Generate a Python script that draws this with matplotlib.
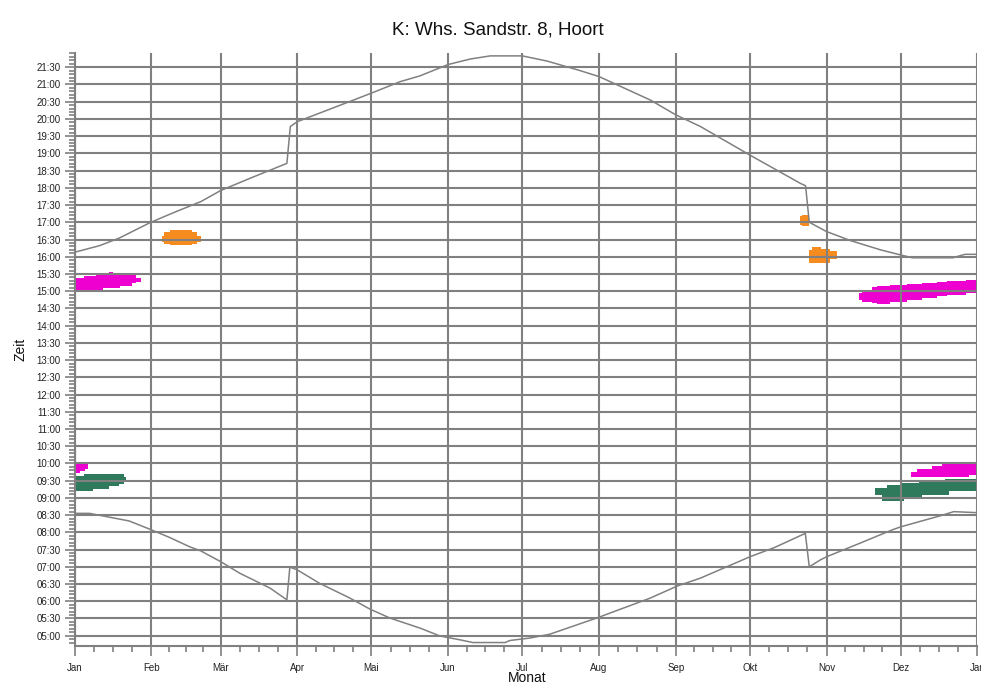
import matplotlib
matplotlib.use("Agg")
import matplotlib.pyplot as plt
import numpy as np
from matplotlib.ticker import FixedLocator, FuncFormatter

plt.rcParams['font.family'] = ['Liberation Sans', 'DejaVu Sans']

# ---- data ----
month_labels = ["Jan", "Feb", "Mär", "Apr", "Mai", "Jun", "Jul", "Aug", "Sep", "Okt", "Nov", "Dez", "Jan"]
month_starts = [0, 31, 59, 90, 120, 151, 181, 212, 243, 273, 304, 334, 365]

sunset_day = [0, 10, 18, 30.5, 40, 51, 59, 71, 85.8, 87.2, 90, 111, 120, 131.5, 139.6, 151, 160, 168, 181,
              191, 204, 212, 232.7, 243, 253, 273, 293.4, 295.5, 297, 304, 313.6, 325.8, 334, 338.7, 355, 360, 365]
sunset_hour = [16.13, 16.32, 16.54, 16.99, 17.28, 17.60, 17.92, 18.28, 18.71, 19.78, 19.92, 20.5, 20.75, 21.08, 21.25,
               21.58, 21.74, 21.83, 21.83, 21.68, 21.41, 21.23, 20.55, 20.12, 19.78, 18.95, 18.13, 18.06, 17.0, 16.73,
               16.47, 16.2, 16.05, 15.97, 15.97, 16.07, 16.07]

sunrise_day = [0, 6, 14, 22, 30.4, 38.4, 46.5, 51, 59, 66.8, 79, 85.8, 87, 90, 99, 111.3, 119.4, 127.5, 139.6,
               147.7, 155.7, 161, 174, 176, 184, 192, 211, 232.7, 243.6, 253, 273, 283, 295.4, 297, 301.5, 304,
               317.7, 330.5, 334, 350, 355.4, 365]
sunrise_hour = [8.55, 8.55, 8.44, 8.33, 8.09, 7.85, 7.58, 7.46, 7.15, 6.81, 6.38, 6.04, 6.99, 6.91, 6.52, 6.09,
                5.77, 5.51, 5.22, 4.99, 4.88, 4.80, 4.80, 4.86, 4.93, 5.04, 5.51, 6.09, 6.44, 6.67, 7.29, 7.56,
                7.97, 7.0, 7.2, 7.29, 7.69, 8.07, 8.16, 8.48, 8.6, 8.57]

# shadow periods: (day edges, lower time, upper time) per segment
magenta = '#EE00D0'
green = '#2F7A5C'
orange = '#F68B1F'

a_day = [0, 3.8, 8.6, 11.4, 13.9, 15.5, 18.3, 23.2, 24.8, 26.8]
a_lo = [14.97, 14.97, 14.97, 15.09, 15.09, 15.09, 15.16, 15.25, 15.27]
a_hi = [15.39, 15.44, 15.49, 15.49, 15.56, 15.49, 15.49, 15.49, 15.39]

b_day = [0, 2, 4, 5.4]
b_lo = [9.72, 9.78, 9.84]
b_hi = [10.01, 10.01, 9.98]

c_day = [0, 3.8, 7.4, 13.9, 17.9, 19.9, 20.8]
c_lo = [9.21, 9.21, 9.27, 9.34, 9.40, 9.47]
c_hi = [9.64, 9.69, 9.69, 9.69, 9.69, 9.62]

d_day = [35.3, 36.1, 38.6, 47.3, 49.4, 51.1]
d_lo = [16.44, 16.36, 16.34, 16.36, 16.44]
d_hi = [16.61, 16.71, 16.78, 16.71, 16.61]

e_day = [293.4, 294.2, 296.8]
e_lo = [16.93, 16.90]
e_hi = [17.18, 17.21]

f_day = [296.8, 298.1, 301.8, 305.2, 308.3]
f_lo = [15.83, 15.83, 15.83, 15.94]
f_hi = [16.20, 16.28, 16.22, 16.18]

g_day = [317.3, 318.4, 322.4, 324.4, 329.8, 336.6, 342.6, 348.7, 352.8, 360.2, 365]
g_lo = [14.73, 14.70, 14.65, 14.62, 14.68, 14.73, 14.79, 14.86, 14.89, 14.94]
g_hi = [14.96, 15.04, 15.11, 15.15, 15.18, 15.21, 15.23, 15.26, 15.30, 15.33]

h_day = [338.3, 340.6, 346.7, 350.7, 356.8, 361.5, 364.9]
h_lo = [9.60, 9.60, 9.60, 9.60, 9.60, 9.65]
h_hi = [9.74, 9.83, 9.93, 9.98, 10.02, 10.02]

i_day = [323.7, 326.5, 328.5, 333.9, 335.2, 341.3, 342.6, 352, 353.4, 365]
i_lo = [9.08, 8.92, 8.92, 8.92, 8.99, 8.99, 9.08, 9.08, 9.21]
i_hi = [9.28, 9.28, 9.38, 9.44, 9.44, 9.49, 9.49, 9.54, 9.54]

blobs = [(a_day, a_lo, a_hi, magenta), (b_day, b_lo, b_hi, magenta), (c_day, c_lo, c_hi, green),
         (d_day, d_lo, d_hi, orange), (e_day, e_lo, e_hi, orange), (f_day, f_lo, f_hi, orange),
         (g_day, g_lo, g_hi, magenta), (h_day, h_lo, h_hi, magenta), (i_day, i_lo, i_hi, green)]

# ---- figure ----
fig = plt.figure(figsize=(9.81, 6.87), dpi=100)
ax = fig.add_axes([0.0761, 0.0597, 0.9203, 0.8632])
grid_c = '#808080'

for days, lo, hi, col in blobs:
    lo2 = list(lo) + [lo[-1]]
    hi2 = list(hi) + [hi[-1]]
    ax.fill_between(days, lo2, hi2, step='post', color=col, linewidth=0, zorder=1)

ax.plot(sunset_day, sunset_hour, color=grid_c, lw=1.1, zorder=3)
ax.plot(sunrise_day, sunrise_hour, color=grid_c, lw=1.1, zorder=3)

ax.set_xlim(0, 365)
ax.set_ylim(4.70, 21.915)

ax.set_axisbelow(False)
major_y = np.arange(5.0, 21.51, 0.5)
ax.yaxis.set_major_locator(FixedLocator(major_y))
ax.yaxis.set_minor_locator(FixedLocator(np.arange(4.8, 21.95, 0.1)))
ax.yaxis.set_major_formatter(FuncFormatter(lambda v, p: "%02d:%02d" % (int(v + 1e-6), int(round((v - int(v + 1e-6)) * 60)))))

ax.xaxis.set_major_locator(FixedLocator(month_starts))
ax.set_xticklabels(month_labels)
minor_x = []
for k in range(12):
    s, e = month_starts[k], month_starts[k + 1]
    for q in (1, 2, 3):
        minor_x.append(s + (e - s) * q / 4)
ax.xaxis.set_minor_locator(FixedLocator(minor_x))

ax.grid(True, which='major', color=grid_c, lw=1.5)
ax.tick_params(axis='both', which='major', length=7, width=1.2, color=grid_c, labelsize=7,
               labelcolor='#222222', direction='out')
ax.tick_params(axis='both', which='minor', length=4, width=1.2, color=grid_c, direction='out')
ax.tick_params(axis='y', which='major', pad=3)
ax.tick_params(axis='x', which='major', pad=5)

for s in ['top', 'right']:
    ax.spines[s].set_visible(False)
for s in ['left', 'bottom']:
    ax.spines[s].set_color(grid_c)
    ax.spines[s].set_linewidth(1.5)

fig.text(0.507, 0.956, "K: Whs. Sandstr. 8, Hoort", ha='center', va='center', fontsize=13.5, color='#111111')
fig.text(0.537, 0.013, "Monat", ha='center', va='center', fontsize=10, color='#111111')
fig.text(0.021, 0.491, "Zeit", ha='center', va='center', rotation=90, fontsize=10, color='#111111')

fig.savefig("out.png", dpi=100)
